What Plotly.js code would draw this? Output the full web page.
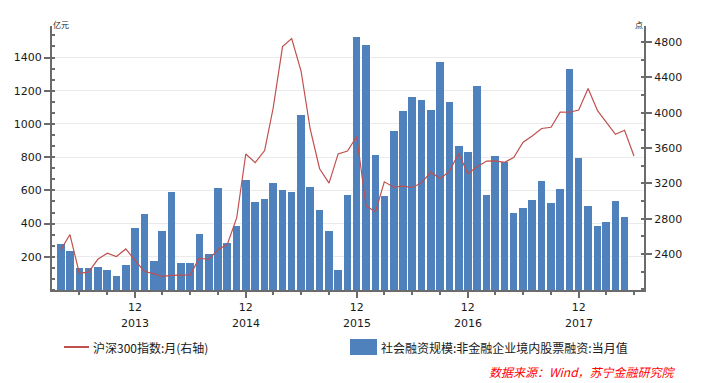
<!DOCTYPE html>
<html>
<head>
<meta charset="utf-8">
<script src="https://cdn.plot.ly/plotly-3.0.1.min.js"></script>
<style>
  html, body { margin: 0; padding: 0; background: #ffffff; }
  #chart { width: 701px; height: 383px; }
</style>
</head>
<body>
<div id="chart"></div>
<script>
// Months (line runs one month longer than the bars)
const months = [
  "2013-04","2013-05","2013-06","2013-07","2013-08","2013-09","2013-10","2013-11","2013-12",
  "2014-01","2014-02","2014-03","2014-04","2014-05","2014-06","2014-07","2014-08","2014-09","2014-10","2014-11","2014-12",
  "2015-01","2015-02","2015-03","2015-04","2015-05","2015-06","2015-07","2015-08","2015-09","2015-10","2015-11","2015-12",
  "2016-01","2016-02","2016-03","2016-04","2016-05","2016-06","2016-07","2016-08","2016-09","2016-10","2016-11","2016-12",
  "2017-01","2017-02","2017-03","2017-04","2017-05","2017-06","2017-07","2017-08","2017-09","2017-10","2017-11","2017-12",
  "2018-01","2018-02","2018-03","2018-04","2018-05","2018-06"
];

// 社会融资规模:非金融企业境内股票融资:当月值 (亿元), Apr 2013 - May 2018
const equityFinancing = [
  276, 235, 132, 132, 140, 120, 84, 150, 373,
  457, 174, 355, 590, 162, 162, 337, 216, 614, 283, 385, 662,
  530, 548, 644, 602, 590, 1053, 619, 480, 355, 120, 572, 1523,
  1475, 812, 566, 959, 1080, 1162, 1144, 1084, 1373, 1131, 867, 831,
  1228, 572, 806, 770, 463, 493, 541, 656, 523, 608, 1331, 795,
  505, 385, 409, 535, 439
];

// 沪深300指数:月 (点), Apr 2013 - Jun 2018
const csi300 = [
  2447.6, 2621.3, 2181.6, 2196.0, 2341.0, 2409.4, 2372.0, 2458.0, 2330.0,
  2202.5, 2179.0, 2146.3, 2158.7, 2160.8, 2165.1, 2352.5, 2338.5, 2450.6, 2508.6, 2808.8, 3533.7,
  3434.4, 3572.8, 4051.2, 4749.9, 4840.8, 4473.0, 3816.7, 3366.5, 3203.0, 3534.1, 3566.4, 3731.0,
  2946.1, 2877.5, 3218.1, 3156.8, 3169.6, 3153.9, 3203.9, 3327.8, 3253.3, 3336.3, 3538.0, 3310.1,
  3388.0, 3452.8, 3456.1, 3439.8, 3492.9, 3666.8, 3737.9, 3822.1, 3836.5, 4006.7, 4006.1, 4030.9,
  4275.9, 4023.6, 3898.5, 3756.9, 3802.5, 3511.0
];

// Axis tick labels
const decTicks = ["2013-12","2014-12","2015-12","2016-12","2017-12"];
const decLabels = ["12","12","12","12","12"];
const yearLabels = ["2013","2014","2015","2016","2017"];
const quarterTicks = [
  "2013-03","2013-06","2013-09",
  "2014-03","2014-06","2014-09",
  "2015-03","2015-06","2015-09",
  "2016-03","2016-06","2016-09",
  "2017-03","2017-06","2017-09",
  "2018-03","2018-06"
];
const leftTicks = [200, 400, 600, 800, 1000, 1200, 1400];
const rightTicks = [2400, 2800, 3200, 3600, 4000, 4400, 4800];

const barName = "社会融资规模:非金融企业境内股票融资:当月值";
const lineName = "沪深300指数:月(右轴)";
const sourceText = "数据来源：Wind，苏宁金融研究院";

const BLUE = "#4F81BD";
const RED = "#C0504D";
const AXIS = "#6b6b6b";
const TICKFONT = { family: "DejaVu Sans, Verdana, sans-serif", size: 11, color: "#1a1a1a" };
const CJK = "Noto Sans CJK SC, sans-serif";

const traces = [
  {
    type: "bar",
    name: barName,
    x: months.slice(0, equityFinancing.length),
    y: equityFinancing,
    width: 25 * 86400000,
    marker: { color: BLUE, line: { width: 0 } },
    yaxis: "y",
    hoverinfo: "x+y"
  },
  {
    type: "scatter",
    mode: "lines",
    name: lineName,
    x: months,
    y: csi300,
    line: { color: RED, width: 1.2 },
    yaxis: "y2",
    hoverinfo: "x+y"
  }
];

// px -> paper helpers (plot area: x 52..644, y 26..290)
const L = 52, R = 57, T = 26, B = 93, W = 701, H = 383;
const PW = W - L - R, PH = H - T - B;
const px = v => (v - L) / PW;
const py = v => (H - B - v) / PH;

const annotations = [];
yearLabels.forEach((yr, i) => {
  annotations.push({
    x: decTicks[i], xref: "x", y: py(323), yref: "paper",
    text: yr, showarrow: false, xanchor: "center", yanchor: "middle",
    font: TICKFONT
  });
});
annotations.push({
  x: px(51), y: py(24), xref: "paper", yref: "paper", text: "亿元",
  showarrow: false, xanchor: "left", yanchor: "middle",
  font: { family: CJK, size: 8, color: "#1a1a1a" }
});
annotations.push({
  x: px(633), y: py(24), xref: "paper", yref: "paper", text: "点",
  showarrow: false, xanchor: "left", yanchor: "middle",
  font: { family: CJK, size: 8, color: "#1a1a1a" }
});
annotations.push({
  x: px(91), y: py(347), xref: "paper", yref: "paper", text: lineName,
  showarrow: false, xanchor: "left", yanchor: "middle",
  font: { family: CJK, size: 12, color: "#1a1a1a" }
});
annotations.push({
  x: px(379), y: py(347), xref: "paper", yref: "paper", text: barName,
  showarrow: false, xanchor: "left", yanchor: "middle",
  font: { family: CJK, size: 12, color: "#1a1a1a" }
});
annotations.push({
  x: px(678), y: py(371), xref: "paper", yref: "paper", text: "<i>" + sourceText + "</i>",
  showarrow: false, xanchor: "right", yanchor: "middle",
  font: { family: CJK, size: 12, color: "#ff0000" }
});

const shapes = [
  { type: "line", xref: "paper", yref: "paper",
    x0: px(64), x1: px(89), y0: py(347), y1: py(347),
    line: { color: RED, width: 2 } },
  { type: "rect", xref: "paper", yref: "paper",
    x0: px(350), x1: px(377), y0: py(339), y1: py(355),
    fillcolor: BLUE, line: { width: 0 } }
];

const layout = {
  width: W, height: H,
  margin: { l: L, r: R, t: T, b: B, pad: 0 },
  paper_bgcolor: "#ffffff",
  plot_bgcolor: "#ffffff",
  showlegend: false,
  bargap: 0,
  xaxis: {
    type: "date",
    range: ["2013-03-03", "2018-07-04"],
    tickmode: "array",
    tickvals: decTicks,
    ticktext: decLabels,
    ticks: "outside",
    ticklen: 6,
    tickwidth: 2,
    tickcolor: AXIS,
    tickfont: TICKFONT,
    showline: true,
    linecolor: AXIS,
    linewidth: 2,
    showgrid: false,
    zeroline: false,
    minor: {
      tickmode: "array",
      tickvals: quarterTicks,
      ticks: "outside",
      ticklen: 3,
      tickwidth: 2,
      tickcolor: AXIS,
      showgrid: false
    },
    fixedrange: true
  },
  yaxis: {
    range: [0, 1590],
    tickmode: "array",
    tickvals: leftTicks,
    ticks: "outside",
    ticklen: 6,
    tickwidth: 2,
    tickcolor: AXIS,
    tickfont: TICKFONT,
    showline: true,
    linecolor: AXIS,
    linewidth: 2,
    showgrid: true,
    gridcolor: "#ebebeb",
    gridwidth: 1,
    zeroline: false,
    minor: {
      tickmode: "linear",
      tick0: 0,
      dtick: 200 / 3,
      ticks: "inside",
      ticklen: 3,
      tickwidth: 2,
      tickcolor: AXIS,
      showgrid: false
    },
    fixedrange: true
  },
  yaxis2: {
    overlaying: "y",
    side: "right",
    range: [1993, 4983],
    tickmode: "array",
    tickvals: rightTicks,
    ticks: "outside",
    ticklen: 6,
    tickwidth: 2,
    tickcolor: AXIS,
    tickfont: TICKFONT,
    showline: true,
    linecolor: AXIS,
    linewidth: 2,
    showgrid: false,
    zeroline: false,
    minor: {
      tickmode: "linear",
      tick0: 2000,
      dtick: 200,
      ticks: "inside",
      ticklen: 3,
      tickwidth: 2,
      tickcolor: AXIS,
      showgrid: false
    },
    fixedrange: true
  },
  annotations: annotations,
  shapes: shapes
};

Plotly.newPlot("chart", traces, layout, { displayModeBar: false, staticPlot: true });
</script>
</body>
</html>
